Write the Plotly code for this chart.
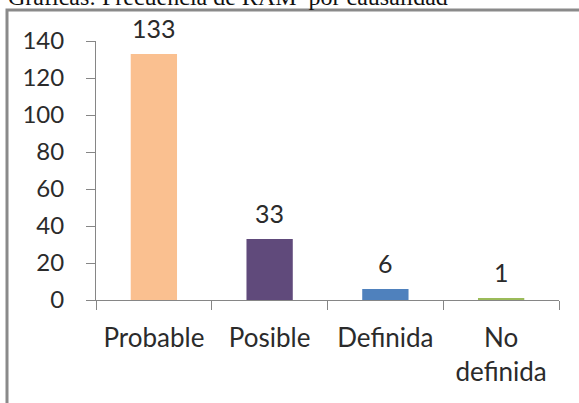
import plotly.graph_objects as go

# Frecuencia de RAM según causalidad
categorias = ["Probable", "Posible", "Definida", "No<br>definida"]
frecuencias = [133, 33, 6, 1]
colores = ["#FAC090", "#604A7B", "#4F81BD", "#9BBB59"]
y_ticks = [0, 20, 40, 60, 80, 100, 120, 140]
titulo = "Gráficas: Frecuencia de RAM  por causalidad"

W, H = 579, 403
L, R, T, B = 96, 20, 41, 103
pw, ph = W - L - R, H - T - B


def px_x(p):
    return (p - L) / pw


def px_y(p):
    return (H - B - p) / ph


text_color = "#2b2b2b"
axis_color = "#868686"

fig = go.Figure(
    go.Bar(
        x=categorias,
        y=frecuencias,
        marker=dict(color=colores, line=dict(width=0)),
        width=0.4,
        cliponaxis=False,
    )
)

# value labels above each bar
value_labels = [
    dict(
        x=c,
        y=v,
        xref="x",
        yref="y",
        text=str(v),
        showarrow=False,
        yanchor="bottom",
        yshift=9,
        font=dict(family="Lato", size=25, color=text_color),
    )
    for c, v in zip(categorias, frecuencias)
]

fig.update_layout(
    width=W,
    height=H,
    margin=dict(l=L, r=R, t=T, b=B, pad=0),
    paper_bgcolor="white",
    plot_bgcolor="white",
    showlegend=False,
    font=dict(family="Lato", size=24, color=text_color),
    xaxis=dict(
        type="category",
        tickson="boundaries",
        ticks="outside",
        ticklen=9,
        tickcolor=axis_color,
        showline=True,
        linecolor=axis_color,
        linewidth=1,
        showgrid=False,
        ticklabelstandoff=15,
        tickfont=dict(family="Lato", size=26, color=text_color),
    ),
    yaxis=dict(
        range=[0, 140],
        tickvals=y_ticks,
        ticks="outside",
        ticklen=9,
        tickcolor=axis_color,
        showline=True,
        linecolor=axis_color,
        linewidth=1,
        showgrid=False,
        zeroline=False,
        ticklabelstandoff=17,
        tickfont=dict(family="Lato", size=24, color=text_color),
    ),
    shapes=[
        dict(
            type="rect",
            xref="paper",
            yref="paper",
            x0=px_x(7),
            x1=px_x(600),
            y0=px_y(430),
            y1=px_y(10),
            line=dict(color="#8a8a8a", width=3),
            fillcolor="rgba(0,0,0,0)",
            layer="below",
        )
    ],
    annotations=value_labels
    + [
        dict(
            text=titulo,
            xref="paper",
            yref="paper",
            x=px_x(6),
            y=px_y(-3),
            xanchor="left",
            yanchor="middle",
            showarrow=False,
            font=dict(family="Liberation Serif", size=24, color="#111111"),
        )
    ],
)

fig.write_html("out.html")
